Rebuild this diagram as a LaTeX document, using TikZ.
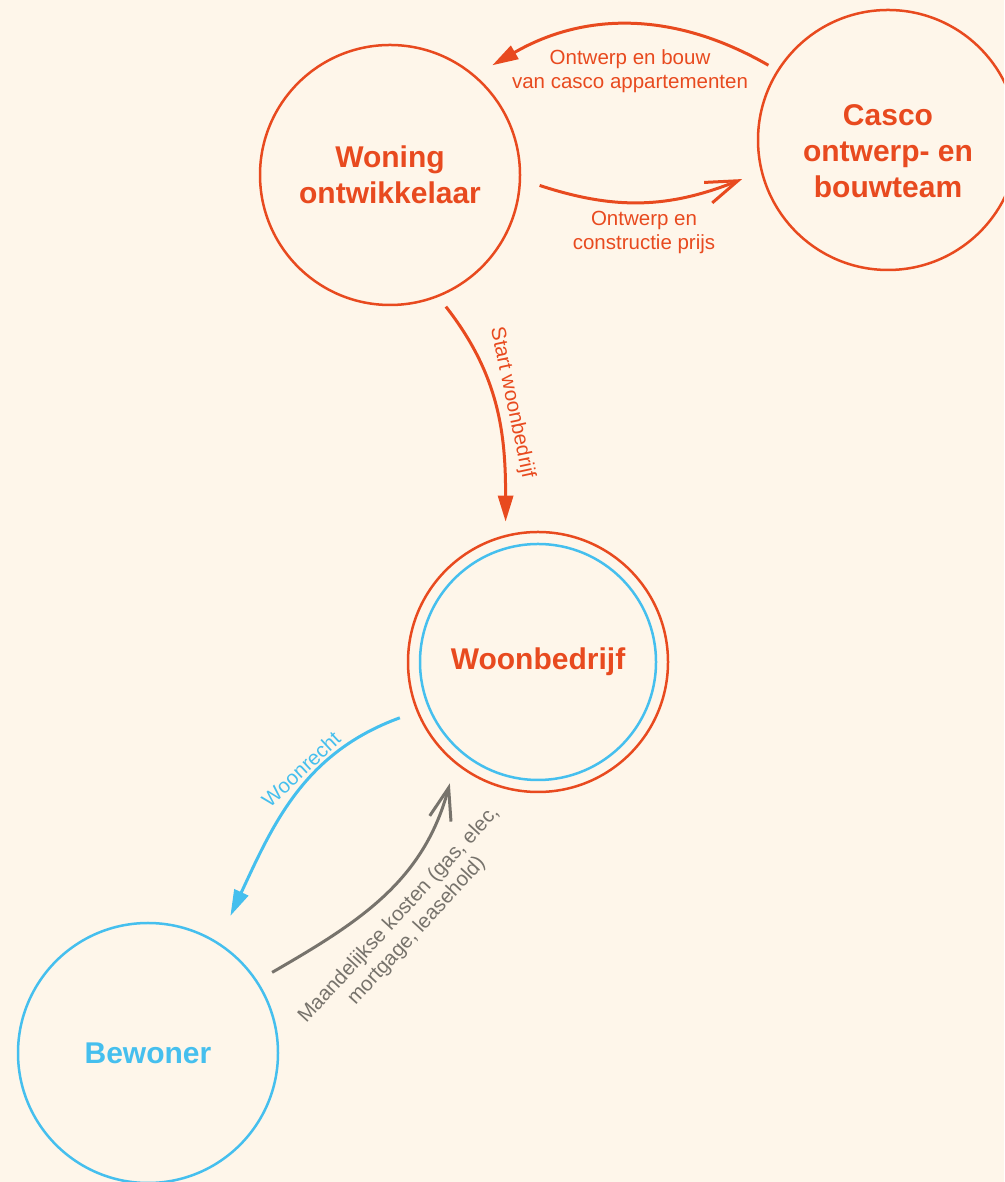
\documentclass[tikz,border=0pt]{standalone}
\usepackage{fontspec}
\setmainfont{Liberation Sans}
\usetikzlibrary{arrows.meta,calc}
\definecolor{bg}{HTML}{FEF6EA}
\definecolor{brick}{HTML}{E84A1F}
\definecolor{sky}{HTML}{45BFEE}
\definecolor{stone}{HTML}{77736C}

\begin{document}
\begin{tikzpicture}[x=1pt,y=1pt,
  actor/.style={circle, draw, line width=2.5pt, minimum size=260pt, inner sep=0pt,
    align=center, font=\fontsize{30}{36}\selectfont\bfseries},
  flow/.style={line width=3pt},
  lbl/.style={font=\fontsize{20.5}{24}\selectfont, align=center, inner sep=0pt},
  solidtip/.style={-{Triangle[length=26pt,width=15pt]}},
  opentip/.style={-{Straight Barb[length=32pt,width=22pt]}},
]
% canvas
\fill[bg] (0,0) rectangle (1004,1182);
\clip (0,0) rectangle (1004,1182);
\useasboundingbox (0,0) rectangle (1004,1182);

% parties
\node[actor, draw=brick, text=brick] (wo) at (390,1007) {Woning\\ontwikkelaar};
\node[actor, draw=brick,
  label={[font=\fontsize{30}{36}\selectfont\bfseries, align=center, text=brick, yshift=-11pt]center:Casco\\ontwerp- en\\bouwteam}]
  (ca) at (888,1042) {};
\node[actor, draw=brick, text=brick] (wb) at (538,520) {Woonbedrijf};
\node[circle, draw=sky, line width=2.5pt, minimum size=236pt, inner sep=0pt] (wbin) at (wb.center) {};
\node[actor, draw=sky, text=sky] (be) at (148,129) {Bewoner};

% flows
\draw[flow, brick, solidtip] ($(ca)+(148:141)$) to[bend right=30] ($(wo)+(47:150)$);
\draw[flow, brick, opentip] ($(wo)+(-4:150)$) to[bend right=20] ($(ca)+(195:151)$);
\draw[flow, brick, solidtip] ($(wo)+(-67:143)$) to[out=-52,in=90] ($(wb)+(103:144)$);
\draw[flow, sky, solidtip] ($(wb)+(202:149)$) to[out=200,in=65] ($(be)+(59:160)$);
\draw[flow, stone, opentip] ($(be)+(33:148)$) to[out=30,in=-105] ($(wb)+(234:150)$);

% flow labels
\node[lbl, text=brick] (l1) at (630,1111) {Ontwerp en bouw\\van casco appartementen};
\node[lbl, text=brick] (l2) at (644,950) {Ontwerp en\\constructie prijs};
\node[lbl, text=brick, rotate=-78] (l3) at (512,779) {Start woonbedrijf};
\node[lbl, text=sky, rotate=43] (l4) at (301,413) {Woonrecht};
\node[lbl, text=stone, rotate=47.5] (l5) at (408,259) {Maandelijkse kosten (gas, elec,\\mortgage, leasehold)};
\end{tikzpicture}
\end{document}
